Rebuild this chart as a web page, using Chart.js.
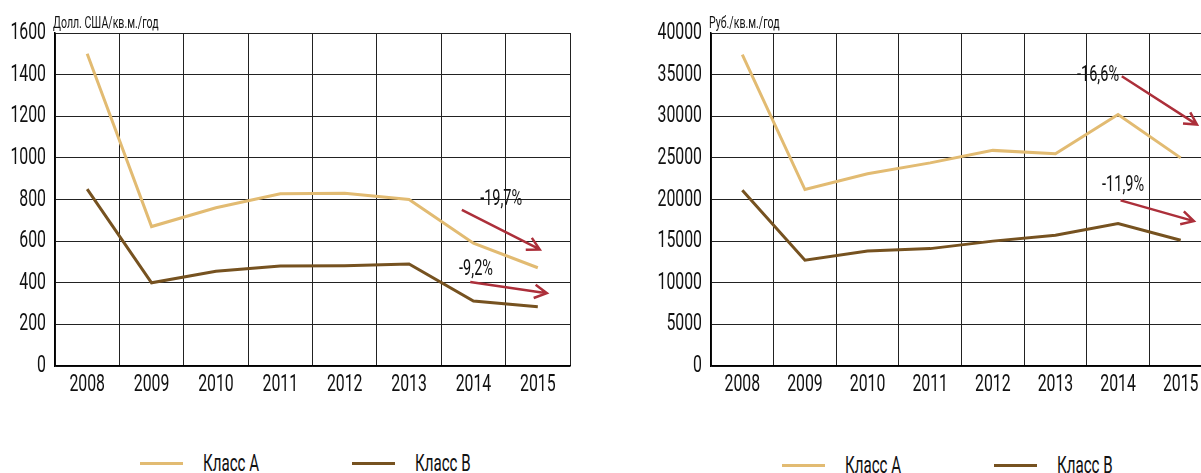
<!DOCTYPE html>
<html>
<head>
<meta charset="utf-8">
<script src="https://cdn.jsdelivr.net/npm/chart.js@4.4.1/dist/chart.umd.min.js"></script>
<style>
    body { margin: 0; width: 1201px; height: 473px; overflow: hidden; background: #fff; position: relative;
           font-family: Roboto, 'Liberation Sans', sans-serif; }
    #left-wrap { position: absolute; left: 0; top: 0; width: 600px; height: 400px; }
    #right-wrap { position: absolute; left: 600px; top: 0; width: 640px; height: 400px; }
    .legend-item { position: absolute; top: 450px; height: 26px; line-height: 26px; font-size: 24px; color: #111; }
    .legend-item .swatch { position: absolute; top: 12px; left: 0; width: 43px; height: 3px; }
    .legend-item .label { position: absolute; top: 0; white-space: nowrap; transform: scaleX(0.63); transform-origin: left center; }
</style>
</head>
<body>
<div id="left-wrap"><canvas id="usdChart"></canvas></div>
<div id="right-wrap"><canvas id="rubChart"></canvas></div>
<div id="legends"></div>

<script>
// --- Data ---
const years = ['2008', '2009', '2010', '2011', '2012', '2013', '2014', '2015'];
const seriesNames = ['Класс A', 'Класс B'];

const usdClassA = [1500, 670, 760, 828, 830, 800, 590, 472];
const usdClassB = [850, 400, 455, 480, 482, 490, 312, 285];

const rubClassA = [37400, 21200, 23100, 24400, 25900, 25500, 30200, 25000];
const rubClassB = [21100, 12700, 13800, 14100, 15000, 15700, 17100, 15100];

const usdUnit = 'Долл. США/кв.м./год';
const rubUnit = 'Руб./кв.м./год';

// change labels + arrows (x in category index, y in axis units)
const usdNotes = [
    { text: '-19,7%', tx: 6.43, ty: 800, x1: 5.82, y1: 750, x2: 7.03, y2: 560 },
    { text: '-9,2%',  tx: 6.04, ty: 462, x1: 5.95, y1: 404, x2: 7.14, y2: 350 }
];
const rubNotes = [
    { text: '-16,6%', tx: 5.68, ty: 34900, x1: 6.06, y1: 34800, x2: 7.26, y2: 29000 },
    { text: '-11,9%', tx: 6.08, ty: 21700, x1: 6.04, y1: 19900, x2: 7.21, y2: 17400 }
];

const colorA = '#e2bb72';
const colorB = '#765220';
const arrowColor = '#ac2f3a';
const fontFamily = "Roboto, 'Liberation Sans', sans-serif";
const narrow = 0.66; // no condensed font installed, squeeze the text instead

// squeeze every fillText on this context horizontally around its anchor point
function condense(ctx, k) {
    const orig = ctx.fillText.bind(ctx);
    ctx.fillText = function (text, x, y, maxWidth) {
        ctx.save();
        ctx.translate(x, y);
        ctx.scale(k, 1);
        if (maxWidth !== undefined) orig(text, 0, 0, maxWidth / k);
        else orig(text, 0, 0);
        ctx.restore();
    };
}

// --- Plugins ---
const unitLabelPlugin = {
    id: 'unitLabel',
    afterDraw(chart, args, opts) {
        const { ctx, chartArea } = chart;
        ctx.save();
        ctx.font = '16px ' + fontFamily;
        ctx.fillStyle = '#111';
        ctx.textAlign = 'left';
        ctx.textBaseline = 'alphabetic';
        ctx.fillText(opts.text, chartArea.left - 2, chartArea.top - 5);
        ctx.restore();
    }
};

const arrowNotesPlugin = {
    id: 'arrowNotes',
    afterDatasetsDraw(chart, args, opts) {
        const { ctx } = chart;
        const xs = chart.scales.x, ys = chart.scales.y;
        ctx.save();
        opts.notes.forEach(n => {
            const x1 = xs.getPixelForValue(n.x1), y1 = ys.getPixelForValue(n.y1);
            const x2 = xs.getPixelForValue(n.x2), y2 = ys.getPixelForValue(n.y2);
            ctx.strokeStyle = arrowColor;
            ctx.lineWidth = 2.5;
            ctx.lineCap = 'butt';
            ctx.beginPath();
            ctx.moveTo(x1, y1);
            ctx.lineTo(x2, y2);
            const ang = Math.atan2(y2 - y1, x2 - x1);
            const len = 14;
            ctx.moveTo(x2 + len * Math.cos(ang + Math.PI - 0.5), y2 + len * Math.sin(ang + Math.PI - 0.5));
            ctx.lineTo(x2, y2);
            ctx.lineTo(x2 + len * Math.cos(ang + Math.PI + 0.5), y2 + len * Math.sin(ang + Math.PI + 0.5));
            ctx.stroke();

            ctx.font = '22px ' + fontFamily;
            ctx.fillStyle = '#111';
            ctx.textAlign = 'center';
            ctx.textBaseline = 'middle';
            ctx.fillText(n.text, xs.getPixelForValue(n.tx), ys.getPixelForValue(n.ty));
        });
        ctx.restore();
    }
};

function makeChart(canvasId, dataA, dataB, yMax, yStep, yAxisWidth, padRight, unit, notes) {
    const ctx = document.getElementById(canvasId).getContext('2d');
    condense(ctx, narrow);
    return new Chart(ctx, {
        type: 'line',
        data: {
            labels: years,
            datasets: [
                { label: seriesNames[0], data: dataA, borderColor: colorA, borderWidth: 3, pointRadius: 0, tension: 0, fill: false },
                { label: seriesNames[1], data: dataB, borderColor: colorB, borderWidth: 3, pointRadius: 0, tension: 0, fill: false }
            ]
        },
        options: {
            responsive: true,
            maintainAspectRatio: false,
            animation: false,
            layout: { padding: { left: 0, right: padRight, top: 33, bottom: 0 } },
            plugins: {
                legend: { display: false },
                tooltip: { enabled: false },
                unitLabel: { text: unit },
                arrowNotes: { notes: notes }
            },
            scales: {
                x: {
                    offset: true,
                    grid: { offset: true, color: '#222', lineWidth: 1, drawTicks: false },
                    border: { color: '#000', width: 1.5 },
                    ticks: { color: '#111', font: { family: fontFamily, size: 24 }, padding: 5, maxRotation: 0, autoSkip: false },
                    afterFit(scale) { scale.height = 34; }
                },
                y: {
                    min: 0,
                    max: yMax,
                    grid: { color: '#222', lineWidth: 1, drawTicks: false },
                    border: { color: '#000', width: 1.5 },
                    ticks: { stepSize: yStep, color: '#111', font: { family: fontFamily, size: 24 }, padding: 9,
                             callback: v => String(v) },
                    afterFit(scale) { scale.width = yAxisWidth; }
                }
            }
        },
        plugins: [unitLabelPlugin, arrowNotesPlugin]
    });
}

makeChart('usdChart', usdClassA, usdClassB, 1600, 200, 55, 30, usdUnit, usdNotes);
makeChart('rubChart', rubClassA, rubClassB, 40000, 5000, 111, 28, rubUnit, rubNotes);

// --- Legends (HTML) ---
const legendSpots = [
    [140, 203, 352, 415],
    [782, 845, 994, 1057]
];
const legendBox = document.getElementById('legends');
legendSpots.forEach((spot, li) => {
    [colorA, colorB].forEach((c, si) => {
        const item = document.createElement('div');
        item.className = 'legend-item';
        item.style.left = spot[si * 2] + 'px';
        item.style.top = (li === 0 ? 450 : 452) + 'px';
        item.innerHTML = '<span class="swatch" style="background:' + c + '"></span>' +
            '<span class="label" style="left:' + (spot[si * 2 + 1] - spot[si * 2]) + 'px">' + seriesNames[si] + '</span>';
        legendBox.appendChild(item);
    });
});
</script>
</body>
</html>
